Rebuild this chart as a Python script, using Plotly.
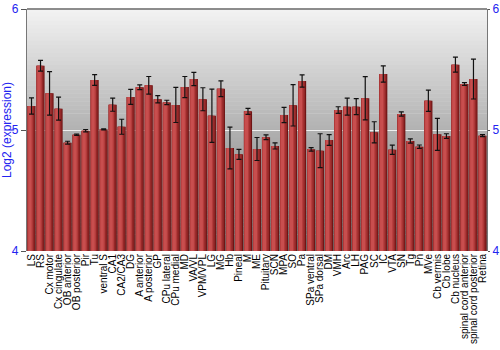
import plotly.graph_objects as go

categories = ["LS", "RS", "Cx motor", "Cx cingulate", "OB anterior", "OB posterior", "Pir", "Tu",
              "ventral S", "CA1", "CA2/CA3", "DG", "A anterior", "A posterior", "GP", "CPu lateral",
              "CPu medial", "MD", "VA/VL", "VPM/VPL", "LG", "MG", "Hb", "Pineal", "M", "ME",
              "Pituitary", "SCN", "MPA", "SO", "Pa", "SPa ventral", "SPa dorsal", "DM", "VMH", "Arc",
              "LH", "PAG", "SC", "IC", "VTA", "SN", "Tg", "Pn", "MVe", "Cb vermis", "Cb lobe",
              "Cb nucleus", "spinal cord anterior", "spinal cord posterior", "Retina"]

values = [5.198, 5.531, 5.303, 5.176, 4.895, 4.961, 4.994, 5.413,
          5.005, 5.209, 5.027, 5.273, 5.353, 5.369, 5.254, 5.228,
          5.207, 5.355, 5.421, 5.254, 5.118, 5.341, 4.851, 4.799, 5.154, 4.843,
          4.940, 4.868, 5.124, 5.204, 5.405, 4.840, 4.829, 4.917, 5.165, 5.193,
          5.193, 5.262, 4.981, 5.463, 4.837, 5.132, 4.909, 4.862, 5.242, 4.964, 4.950,
          5.540, 5.380, 5.421, 4.953]

errors = [0.067, 0.044, 0.180, 0.095, 0.012, 0.006, 0.010, 0.044,
          0.004, 0.054, 0.062, 0.062, 0.020, 0.073, 0.030, 0.018,
          0.145, 0.087, 0.055, 0.095, 0.220, 0.065, 0.173, 0.041, 0.025, 0.095,
          0.020, 0.025, 0.063, 0.171, 0.050, 0.014, 0.140, 0.044, 0.027, 0.070,
          0.066, 0.179, 0.087, 0.067, 0.038, 0.017, 0.017, 0.014, 0.088, 0.132, 0.019,
          0.062, 0.011, 0.165, 0.008]

y_ticks = [4, 5, 6]
y_title = "Log2 (expression)"

blue = "#2323f0"
font_family = "Liberation Sans, Arial, sans-serif"

fig = go.Figure()

# layered bars to mimic horizontal shading of each bar
layers = [
    (0.9, -0.45, "#6e1414"),
    (0.78, -0.45, "#952828"),
    (0.6, -0.45, "#b33b3b"),
    (0.36, -0.36, "#c84e4e"),
]
for w, off, col in layers:
    fig.add_trace(go.Bar(x=categories, y=values, base=0, width=w, offset=off,
                         marker=dict(color=col, line=dict(width=0)),
                         hoverinfo="skip", showlegend=False))

# transparent trace carrying error bars (also anchors right axis)
fig.add_trace(go.Bar(x=categories, y=values, width=0.9, yaxis="y2",
                     marker=dict(color="rgba(0,0,0,0)", line=dict(width=0)),
                     error_y=dict(type="data", array=errors, visible=True,
                                  color="#111111", thickness=1.2, width=2.5),
                     showlegend=False))

# background vertical gradient
n = 60
top_c, bot_c = 243, 112
shapes = []
for i in range(n):
    t = (i + 0.5) / n
    c = int(round(top_c + (bot_c - top_c) * t))
    shapes.append(dict(type="rect", xref="paper", yref="paper",
                       x0=0, x1=1, y0=1 - (i + 1) / n, y1=1 - i / n + 0.002,
                       fillcolor=f"rgb({c},{c},{c})", line=dict(width=0), layer="below"))
shapes.append(dict(type="line", xref="paper", yref="paper", x0=0, x1=1, y0=1, y1=1,
                   line=dict(color="#6a6a6a", width=1.5), layer="above"))

fig.update_layout(
    width=500, height=350,
    margin=dict(l=27, r=13, t=9, b=99, pad=0),
    paper_bgcolor="white",
    plot_bgcolor="rgba(0,0,0,0)",
    barmode="overlay",
    bargap=0.1,
    font=dict(family=font_family, size=10, color="black"),
    shapes=shapes,
    xaxis=dict(type="category", tickmode="array", tickvals=categories, ticktext=categories,
               tickangle=-90, tickfont=dict(size=10, color="black", family=font_family),
               ticks="", showgrid=False, showline=False, zeroline=False,
               range=[-0.5, len(categories) - 0.5], automargin=False),
    yaxis=dict(range=[4, 6], tickvals=y_ticks, ticks="outside", ticklen=5, tickcolor="#555555",
               tickfont=dict(size=12, color=blue, family=font_family),
               showline=True, linecolor="#777777", linewidth=1.2,
               showgrid=True, gridcolor="rgba(255,255,255,0.8)", gridwidth=1.2,
               zeroline=False, automargin=False,
               title=dict(text=y_title, font=dict(size=12, color=blue, family=font_family),
                          standoff=2)),
    yaxis2=dict(range=[4, 6], tickvals=y_ticks, overlaying="y", side="right", anchor="x",
                ticks="outside", ticklen=2, tickcolor="#555555",
                tickfont=dict(size=12, color=blue, family=font_family),
                showline=True, linecolor="#777777", linewidth=1.2,
                showgrid=False, zeroline=False, automargin=False),
)

fig.write_html("out.html")
